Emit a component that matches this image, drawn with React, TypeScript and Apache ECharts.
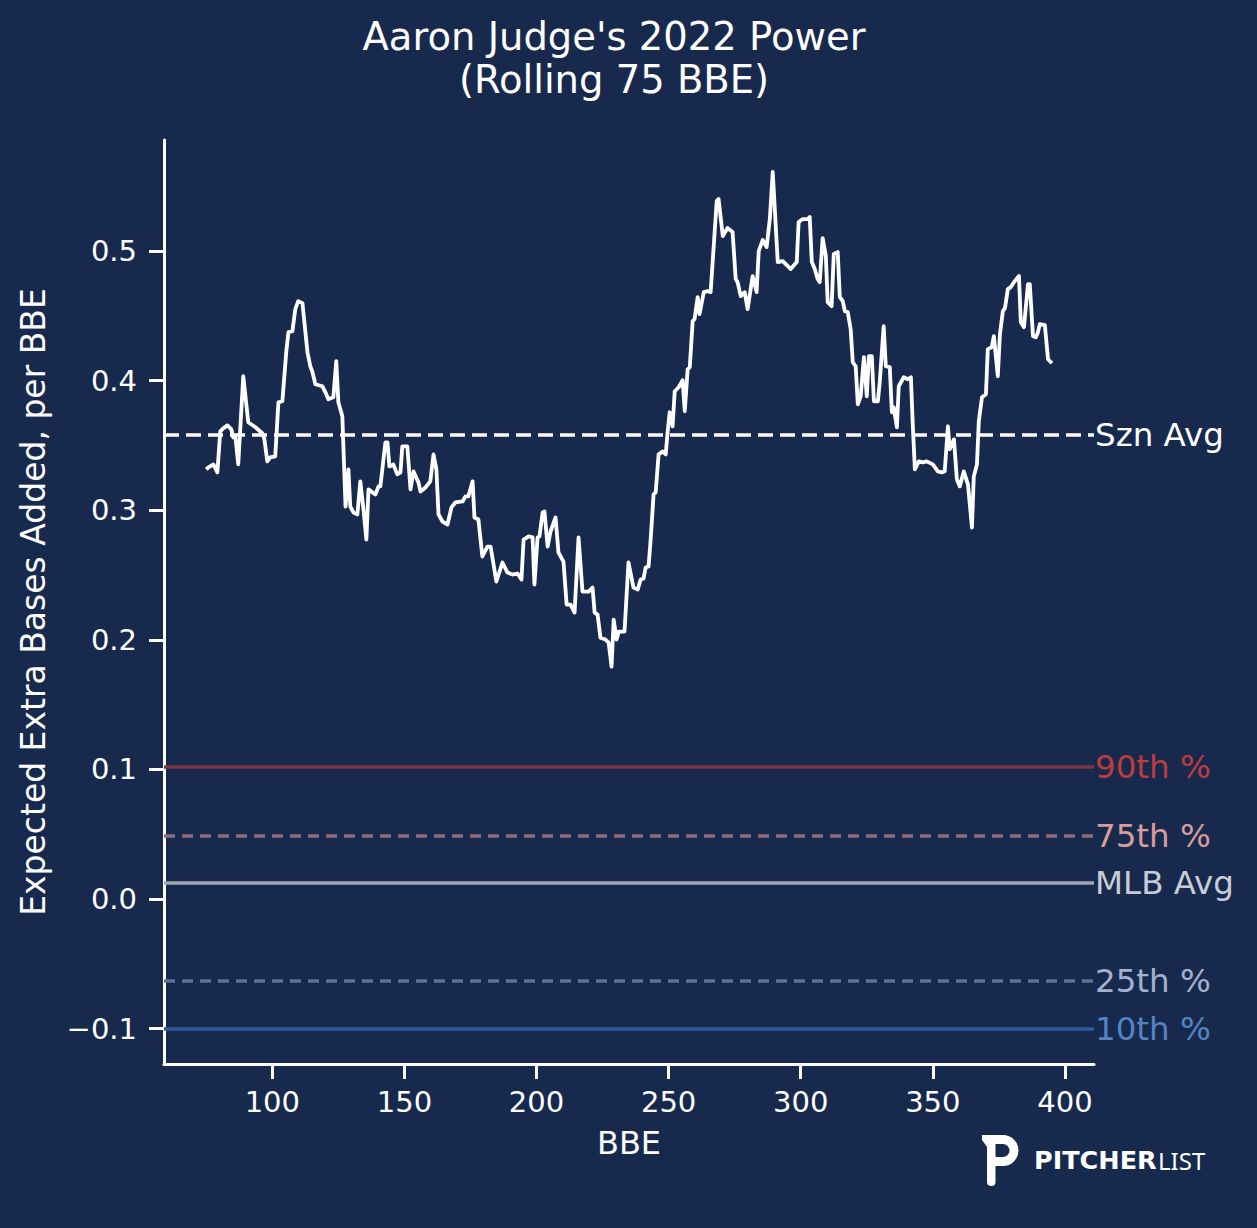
import React, { useEffect, useRef } from "react";
import * as echarts from "echarts";

// Rolling 75 BBE – BBE index and expected extra bases added per BBE
const bbe = [
  75, 75.8, 77.7, 79.2, 80.3, 81.4, 83.0, 84.5, 85.2, 86.0, 87.1, 89.0, 90.9, 93.6, 96.2, 97.0, 98.1, 99.2,
  101.1, 102.3, 103.8, 105.3, 106.1, 107.6, 108.7, 109.8, 111.4, 113.3, 114.4, 115.2, 116.3, 118.9, 120.1,
  121.2, 123.1, 124.2, 125.0, 126.5, 127.7, 128.8, 129.5, 130.7, 132.2, 133.3, 134.5, 135.6, 136.4, 137.9,
  139.0, 140.2, 140.9, 142.8, 143.6, 144.3, 145.8, 147.3, 148.5, 149.2, 151.1, 152.3, 153.4, 155.3, 156.1,
  158.0, 159.8, 161.0, 162.1, 162.9, 164.4, 166.3, 167.8, 169.3, 172.0, 173.1, 174.2, 175.8, 176.5, 178.0,
  179.5, 181.4, 182.6, 184.8, 187.1, 189.0, 190.9, 192.8, 194.3, 195.1, 197.0, 198.5, 199.2, 200.4, 201.1,
  202.3, 203.0, 204.2, 205.3, 207.2, 208.3, 210.2, 211.4, 212.9, 214.4, 215.9, 217.4, 219.7, 221.2, 222.0,
  223.1, 224.2, 226.1, 227.3, 228.4, 229.2, 230.3, 231.1, 233.3, 234.8, 236.7, 238.3, 239.4, 240.5, 241.3,
  242.4, 243.2, 244.3, 245.1, 246.2, 247.7, 248.9, 249.6, 250.4, 251.5, 252.3, 253.8, 255.3, 256.1, 257.2,
  258.0, 259.1, 259.8, 261.0, 261.7, 263.3, 264.8, 265.9, 268.2, 268.9, 270.5, 272.3, 274.2, 275.4, 276.1,
  277.3, 278.8, 279.9, 281.8, 283.3, 284.1, 285.6, 287.1, 288.3, 289.4, 291.3, 293.2, 295.1, 296.2, 298.5,
  299.2, 300.8, 302.7, 303.4, 304.2, 305.3, 306.4, 307.2, 308.3, 309.5, 310.2, 311.7, 312.5, 314.0, 314.8,
  315.9, 316.7, 317.8, 318.9, 319.7, 320.8, 321.6, 322.7, 323.9, 325.0, 325.8, 326.9, 327.7, 329.2, 329.9,
  331.4, 332.2, 333.7, 334.5, 335.2, 336.4, 337.1, 339.0, 340.5, 341.7, 342.4, 343.2, 344.7, 346.2, 347.7,
  350.0, 351.9, 353.4, 354.5, 355.7, 356.4, 358.0, 359.1, 360.2, 361.7, 363.3, 364.8, 365.5, 366.7, 367.4,
  368.6, 370.1, 370.8, 372.3, 373.1, 374.6, 375.4, 376.5, 377.3, 378.4, 379.5, 380.7, 382.6, 383.3, 384.5,
  386.0, 386.7, 387.9, 389.0, 389.8, 390.5, 392.4, 393.6, 394.7, 395,
];

const xeba = [
  0.3315, 0.3331, 0.3354, 0.3292, 0.3609, 0.3632, 0.3655, 0.3624, 0.3563, 0.357, 0.3354, 0.4034, 0.3679,
  0.364, 0.3594, 0.3547, 0.3377, 0.3408, 0.3416, 0.3833, 0.3841, 0.4227, 0.4374, 0.4382, 0.4552, 0.4614,
  0.4598, 0.4219, 0.4111, 0.4065, 0.3972, 0.3957, 0.391, 0.3856, 0.3872, 0.415, 0.3833, 0.3725, 0.3029,
  0.3315, 0.3029, 0.2983, 0.2968, 0.3223, 0.3006, 0.2774, 0.3161, 0.3138, 0.3122, 0.3184, 0.3184, 0.3524,
  0.3524, 0.3338, 0.3354, 0.3277, 0.3292, 0.3493, 0.3493, 0.3161, 0.33, 0.3215, 0.3145, 0.3176, 0.3223,
  0.3431, 0.3315, 0.2968, 0.2913, 0.289, 0.3022, 0.306, 0.3068, 0.3107, 0.3107, 0.3223, 0.2944, 0.2929,
  0.2643, 0.272, 0.272, 0.245, 0.2597, 0.2519, 0.2504, 0.2512, 0.2465, 0.2774, 0.2798, 0.279, 0.2427,
  0.279, 0.2798, 0.2983, 0.2991, 0.272, 0.2836, 0.2944, 0.2674, 0.2604, 0.2272, 0.2272, 0.221, 0.279,
  0.2372, 0.2372, 0.2403, 0.221, 0.2195, 0.2017, 0.2002, 0.1978, 0.1793, 0.2156, 0.2002, 0.2063, 0.2063,
  0.2597, 0.2403, 0.2388, 0.2465, 0.2473, 0.2558, 0.2566, 0.2774, 0.3122, 0.3138, 0.3431, 0.3454, 0.3431,
  0.3601, 0.3756, 0.3648, 0.3918, 0.3949, 0.4003, 0.3764, 0.4088, 0.4104, 0.4459, 0.4474, 0.4645, 0.4513,
  0.4683, 0.4691, 0.4683, 0.5386, 0.5402, 0.5116, 0.5178, 0.5147, 0.4784, 0.476, 0.4652, 0.4683, 0.4552,
  0.4807, 0.4683, 0.5, 0.5085, 0.5031, 0.5247, 0.5611, 0.4915, 0.4923, 0.4884, 0.4861, 0.4915, 0.5224,
  0.5247, 0.5247, 0.5263, 0.4915, 0.4861, 0.4784, 0.476, 0.51, 0.4961, 0.4606, 0.4575, 0.4977, 0.4992,
  0.4645, 0.4614, 0.4536, 0.4529, 0.4397, 0.4142, 0.4111, 0.3818, 0.3879, 0.4181, 0.3879, 0.4189, 0.4189,
  0.3841, 0.3841, 0.3988, 0.442, 0.4111, 0.4104, 0.3756, 0.3794, 0.364, 0.3957, 0.4026, 0.4011, 0.4026,
  0.3663, 0.3315, 0.3377, 0.3369, 0.3377, 0.3354, 0.33, 0.3292, 0.33, 0.3648, 0.347, 0.3547, 0.3238,
  0.3184, 0.33, 0.3199, 0.2867, 0.3261, 0.3354, 0.3686, 0.3872, 0.3895, 0.4243, 0.4258, 0.4343, 0.4034,
  0.4359, 0.4536, 0.456, 0.4706, 0.4722, 0.476, 0.4807, 0.4451, 0.4413, 0.4745, 0.4745, 0.4343, 0.4335,
  0.4374, 0.4436, 0.4428, 0.4165, 0.4142, 0.4134,
];

// Reference lines
const refNames = ["Szn Avg", "90th %", "75th %", "MLB Avg", "25th %", "10th %"];
const refValues = [0.358, 0.102, 0.0485, 0.0123, -0.0633, -0.1003];
const refLineColors = ["#ffffff", "#7b3444", "#8d6b7b", "#a3a7b2", "#5d7299", "#2c5a9c"];
const refTextColors = ["#ffffff", "#bf3b3d", "#d99c9b", "#c9ccd6", "#a2b2cf", "#5583c4"];
const refDashed = [true, false, true, false, true, false];

const xTicks = [100, 150, 200, 250, 300, 350, 400];
const yTicks = [-0.1, 0, 0.1, 0.2, 0.3, 0.4, 0.5];

const BG = "#172a4e";
const FONT = '"DejaVu Sans", sans-serif';

const logoPath =
  "M0 0 L21 0 A15.5 15.5 0 0 1 21 31 L13.5 31 L13.5 47 Q13.5 51 9.5 51 Q5 51 5 47 L5 12 L0 5 Z " +
  "M13.5 9 L13.5 22 L21 22 A6.5 6.5 0 0 0 21 9 Z";

let registered = false;

export default function App() {
  const ref = useRef<HTMLDivElement>(null);

  useEffect(() => {
    if (!ref.current) return;
    if (!registered) {
      echarts.graphic.registerShape("logo", echarts.graphic.extendPath(logoPath, {}));
      registered = true;
    }
    const chart = echarts.init(ref.current, null, { renderer: "svg" });

    const markData = refNames.map((n, i) => ({
      name: n,
      yAxis: refValues[i],
      lineStyle: {
        color: refLineColors[i],
        width: 3.5,
        type: refDashed[i] ? (i === 0 ? [15, 7] : [11, 7]) : "solid",
      },
      label: {
        show: true,
        position: "end",
        formatter: n,
        color: refTextColors[i],
        fontSize: 32.5,
        fontFamily: FONT,
        distance: 1,
      },
    }));

    const fmt = (v: number) => (v < 0 ? "\u2212" : "") + Math.abs(v).toFixed(1);

    chart.setOption({
      animation: false,
      backgroundColor: BG,
      title: {
        text: "Aaron Judge's 2022 Power\n(Rolling 75 BBE)",
        left: 614,
        top: 15,
        textAlign: "center",
        padding: 0,
        textStyle: {
          color: "#ffffff",
          fontSize: 38.5,
          lineHeight: 43,
          fontWeight: "normal",
          fontFamily: FONT,
        },
      },
      grid: { left: 164, right: 163, top: 140, bottom: 164, containLabel: false },
      xAxis: {
        type: "value",
        min: 59,
        max: 411,
        name: "BBE",
        nameLocation: "middle",
        nameGap: 63,
        nameTextStyle: { color: "#ffffff", fontSize: 32, fontFamily: FONT },
        axisLine: { show: true, onZero: false, lineStyle: { color: "#ffffff", width: 3 } },
        axisTick: { show: true, length: 15, lineStyle: { color: "#ffffff", width: 3 }, customValues: xTicks },
        axisLabel: {
          color: "#ffffff",
          fontSize: 29,
          fontFamily: FONT,
          margin: 23,
          customValues: xTicks,
          formatter: (v: number) => String(v),
        },
        splitLine: { show: false },
      },
      yAxis: {
        type: "value",
        min: -0.1273,
        max: 0.5857,
        name: "Expected Extra Bases Added, per BBE",
        nameLocation: "middle",
        nameGap: 114,
        nameTextStyle: { color: "#ffffff", fontSize: 33, fontFamily: FONT },
        axisLine: { show: true, onZero: false, lineStyle: { color: "#ffffff", width: 3 } },
        axisTick: { show: true, length: 15, lineStyle: { color: "#ffffff", width: 3 }, customValues: yTicks },
        axisLabel: {
          color: "#ffffff",
          fontSize: 29,
          fontFamily: FONT,
          margin: 27,
          customValues: yTicks,
          formatter: fmt,
        },
        splitLine: { show: false },
      },
      series: [
        {
          type: "line",
          data: bbe.map((b, i) => [b, xeba[i]]),
          showSymbol: false,
          symbol: "none",
          z: 3,
          lineStyle: { color: "#ffffff", width: 3.8, join: "round" },
          markLine: {
            silent: true,
            symbol: ["none", "none"],
            precision: 4,
            z: 2,
            data: markData,
          },
        },
      ],
      graphic: [
        {
          type: "logo",
          x: 982,
          y: 1135,
          scaleX: 1,
          scaleY: 1,
          style: { fill: "#ffffff" },
        },
        {
          type: "text",
          x: 1034,
          y: 1160,
          style: {
            text: "PITCHER",
            fill: "#ffffff",
            font: 'bold 25.5px "DejaVu Sans"',
            textAlign: "left",
            textVerticalAlign: "middle",
            align: "left",
            verticalAlign: "middle",
          },
        },
        {
          type: "text",
          x: 1158,
          y: 1160,
          style: {
            text: "LIST",
            fill: "#ffffff",
            font: '24px "Noto Sans"',
            textAlign: "left",
            textVerticalAlign: "middle",
            align: "left",
            verticalAlign: "middle",
          },
        },
      ],
    });

    return () => chart.dispose();
  }, []);

  return (
    <div
      ref={ref}
      style={{ position: "absolute", left: 0, top: 0, width: 1257, height: 1228 }}
    />
  );
}
